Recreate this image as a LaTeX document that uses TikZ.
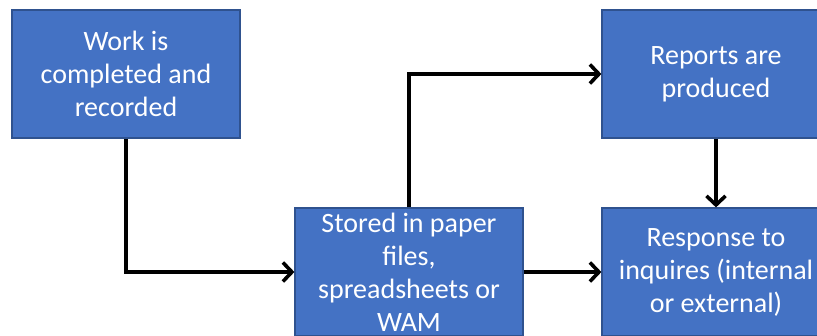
\documentclass[tikz,border=0pt]{standalone}
\usepackage{fontspec}
\setmainfont{Carlito}
\usetikzlibrary{arrows.meta}
\definecolor{boxfill}{HTML}{4472C4}
\definecolor{boxline}{HTML}{2F528F}
\tikzset{
  flowbox/.style={draw=boxline, line width=1.2pt, fill=boxfill, text=white,
    minimum width=228pt, minimum height=128pt, inner sep=2pt, align=center,
    font=\fontsize{28}{33}\selectfont},
  flowarrow/.style={line width=3.6pt, -{Straight Barb[length=9pt,width=19pt,line width=3.6pt]}}
}
\begin{document}
\begin{tikzpicture}[x=1pt, y=-1pt]
  \useasboundingbox (0,0) rectangle (817,335);
  \clip (0,0) rectangle (817,335);
  \node[flowbox] (work)    at (126,74)  {Work is\\completed and\\recorded};
  \node[flowbox] (stored)  at (409,272) {Stored in paper\\files,\\spreadsheets or\\WAM};
  \node[flowbox] (reports) at (716,74)  {Reports are\\produced};
  \node[flowbox] (answer)  at (716,272) {Response to\\inquires (internal\\or external)};
  \draw[flowarrow] (work.south) |- (stored.west);
  \draw[flowarrow] (stored.north) |- (reports.west);
  \draw[flowarrow] (stored.east) -- (answer.west);
  \draw[flowarrow] (reports.south) -- (answer.north);
\end{tikzpicture}
\end{document}
